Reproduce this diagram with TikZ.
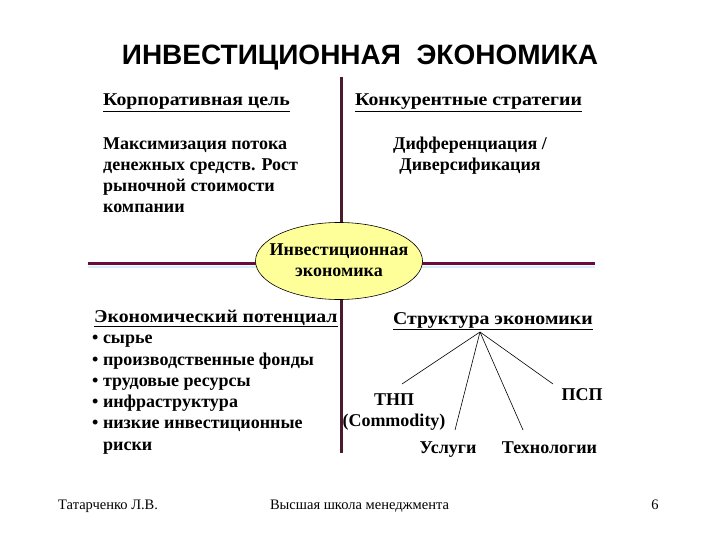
\documentclass[tikz,border=0pt]{standalone}
\usepackage{fontspec}
\setmainfont{Liberation Serif}
\newfontfamily\headfont{Liberation Serif}[FakeStretch=1.1]
\newfontfamily\titlefont{Liberation Sans}
\usetikzlibrary{shapes.geometric}
\definecolor{hline}{HTML}{6B0A3C}
\definecolor{vline}{HTML}{4A1A2E}
\definecolor{ellfill}{HTML}{FFFF99}
\definecolor{shadowc}{HTML}{D8EEF8}
\tikzset{
  bodytext/.style={font=\fontsize{18}{21}\selectfont\bfseries, inner sep=0pt, anchor=base west},
  headtext/.style={font=\headfont\fontsize{18}{21}\selectfont\bfseries, inner sep=0pt, anchor=base west},
  ctext/.style={font=\fontsize{18}{21}\selectfont\bfseries, inner sep=0pt, anchor=base},
  foot/.style={font=\fontsize{14.5}{16}\selectfont, inner sep=0pt, anchor=base},
  tree/.style={draw=black, line width=0.6pt},
}
\begin{document}
\begin{tikzpicture}[x=1pt,y=-1pt]
\useasboundingbox (0,0) rectangle (720,540);
% title
\node[font=\titlefont\fontsize{28}{30}\selectfont\bfseries, inner sep=0pt, anchor=base] (title) at (360,65) {ИНВЕСТИЦИОННАЯ\ \ ЭКОНОМИКА};
% axes
\draw[shadowc, line width=1.5pt] (88,267) -- (595,267);
\draw[vline, line width=3pt] (341.5,77) coordinate (vt) -- (341.5,453) coordinate (vb);
\draw[hline, line width=3pt] (88,263) coordinate (hl) -- (595,263) coordinate (hr);
% ellipse
\node[ellipse, draw=black, fill=ellfill, line width=0.6pt, minimum width=167pt, minimum height=77pt, inner sep=0pt] (core) at (339,261) {};
\node[ctext] (core1) at (339,255) {Инвестиционная};
\node[ctext] (core2) at (339,276) {экономика};
% top-left
\node[headtext] (corp) at (103,106) {\underline{Корпоративная цель}};
\node[bodytext] (m1) at (103,150) {Максимизация потока};
\node[bodytext] (m2) at (103,171) {денежных средств. Рост};
\node[bodytext] (m3) at (103,192) {рыночной стоимости};
\node[bodytext] (m4) at (103,213) {компании};
% top-right
\node[headtext] (konk) at (355,106) {\underline{Конкурентные стратегии}};
\node[ctext] (d1) at (470,150) {Дифференциация /};
\node[ctext] (d2) at (470,171) {Диверсификация};
% bottom-left
\node[headtext] (potent) at (94,322) {\underline{Экономический потенциал}};
\node[bodytext] (b1) at (92,343) {• сырье};
\node[bodytext] (b2) at (92,365) {• производственные фонды};
\node[bodytext] (b3) at (92,386) {• трудовые ресурсы};
\node[bodytext] (b4) at (92,407) {• инфраструктура};
\node[bodytext] (b5) at (92,428) {• низкие инвестиционные};
\node[bodytext] (b6) at (103,450) {риски};
% bottom-right
\node[headtext] (struct) at (393,324) {\underline{Структура экономики}};
\coordinate (apex) at (480,332);
\node[ctext] (tnp) at (394,405) {ТНП};
\node[ctext] (comm) at (394,426) {(Commodity)};
\node[ctext] (usl) at (448,453) {Услуги};
\node[ctext] (tech) at (549.5,453) {Технологии};
\node[ctext] (psp) at (582,400) {ПСП};
\coordinate (e1) at (402,384);
\coordinate (e2) at (455,430);
\coordinate (e3) at (523,430);
\coordinate (e4) at (553,384);
\draw[tree] (apex) -- (e1);
\draw[tree] (apex) -- (e2);
\draw[tree] (apex) -- (e3);
\draw[tree] (apex) -- (e4);
% footer
\node[foot, anchor=base west] (author) at (58,509) {Татарченко Л.В.};
\node[foot] (school) at (359.5,509) {Высшая школа менеджмента};
\node[foot] (page) at (655,509) {6};
\end{tikzpicture}
\end{document}
